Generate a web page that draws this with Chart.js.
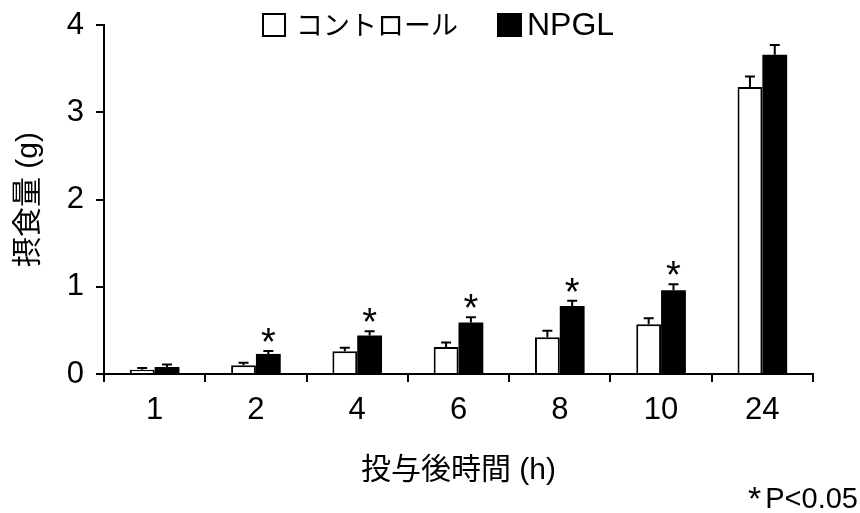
<!DOCTYPE html>
<html>
<head>
<meta charset="utf-8">
<script src="https://cdn.jsdelivr.net/npm/chart.js@4.4.0/dist/chart.umd.min.js"></script>
<style>
  html, body { margin: 0; padding: 0; background: #fff; }
  #wrap { width: 860px; height: 513px; position: relative; }
</style>
</head>
<body>
<div id="wrap"><canvas id="myChart" width="860" height="513" aria-label="bar chart" role="img"></canvas></div>
<script>
// data
const hours = ["1", "2", "4", "6", "8", "10", "24"];
const controlMean = [0.05, 0.10, 0.26, 0.31, 0.42, 0.57, 3.29];
const controlErr = [0.02, 0.03, 0.04, 0.05, 0.075, 0.07, 0.12];
const npglMean = [0.08, 0.23, 0.44, 0.59, 0.78, 0.96, 3.66];
const npglErr = [0.03, 0.035, 0.05, 0.06, 0.06, 0.07, 0.11];
const significant = [false, true, true, true, true, true, false];
const yTicks = [0, 1, 2, 3, 4];

const FONT = "'Liberation Sans', 'Noto Sans CJK JP', Arial, sans-serif";
const CJK = "'Noto Sans CJK JP', 'Liberation Sans', sans-serif";

// error bars, asterisks, legend and footnote
const extras = {
  id: "extras",
  afterDatasetsDraw(chart) {
    const ctx = chart.ctx;
    const yScale = chart.scales.y;
    const errs = [controlErr, npglErr];
    const means = [controlMean, npglMean];
    ctx.save();
    ctx.strokeStyle = "#000";
    ctx.lineWidth = 2;
    for (let d = 0; d < 2; d++) {
      const meta = chart.getDatasetMeta(d);
      meta.data.forEach((bar, i) => {
        const top = yScale.getPixelForValue(means[d][i] + errs[d][i]);
        ctx.beginPath();
        ctx.moveTo(bar.x, bar.y);
        ctx.lineTo(bar.x, top);
        ctx.moveTo(bar.x - 5, top);
        ctx.lineTo(bar.x + 5, top);
        ctx.stroke();
        if (d === 1 && significant[i]) {
          ctx.fillStyle = "#000";
          ctx.font = "38px " + FONT;
          ctx.textAlign = "center";
          ctx.textBaseline = "alphabetic";
          ctx.fillText("*", bar.x, top + 4);
        }
      });
    }
    ctx.restore();
  },
  afterDraw(chart) {
    const ctx = chart.ctx;
    ctx.save();
    // legend
    ctx.lineWidth = 2;
    ctx.strokeStyle = "#000";
    ctx.fillStyle = "#fff";
    ctx.fillRect(263, 14, 22, 22);
    ctx.strokeRect(263, 14, 22, 22);
    ctx.fillStyle = "#000";
    ctx.fillRect(497, 13, 25, 24);
    ctx.textBaseline = "middle";
    ctx.textAlign = "left";
    ctx.font = "27px " + CJK;
    ctx.fillText("コントロール", 296, 25);
    ctx.font = "32px " + FONT;
    ctx.fillText("NPGL", 527, 26);
    // footnote
    ctx.textBaseline = "alphabetic";
    ctx.font = "34px " + FONT;
    ctx.fillText("*", 748, 510);
    ctx.font = "29px " + FONT;
    ctx.textAlign = "right";
    ctx.fillText("P<0.05", 858, 508);
    ctx.restore();
  }
};

new Chart(document.getElementById("myChart"), {
  type: "bar",
  data: {
    labels: hours,
    datasets: [
      {
        label: "コントロール",
        data: controlMean,
        backgroundColor: "#ffffff",
        borderColor: "#000000",
        borderWidth: 2,
        categoryPercentage: 0.49,
        barPercentage: 1.0,
      },
      {
        label: "NPGL",
        data: npglMean,
        backgroundColor: "#000000",
        borderColor: "#000000",
        borderWidth: 0,
        categoryPercentage: 0.49,
        barPercentage: 1.0,
      },
    ],
  },
  options: {
    responsive: false,
    animation: false,
    devicePixelRatio: 1,
    layout: { padding: { top: 25, right: 47, left: 0, bottom: 0 } },
    plugins: {
      legend: { display: false },
      tooltip: { enabled: false },
    },
    scales: {
      x: {
        afterFit: (s) => { s.height = 139; s.paddingLeft = 0; s.paddingRight = 0; },
        grid: { display: true, drawOnChartArea: false, drawTicks: true, tickLength: 8, color: "#000", lineWidth: 2 },
        border: { display: true, color: "#000", width: 2 },
        ticks: { color: "#000", font: { family: FONT, size: 31 }, padding: 10, autoSkip: false, maxRotation: 0 },
        title: { display: true, text: "投与後時間 (h)", color: "#000", font: { family: FONT, size: 30 }, padding: { top: 0, bottom: 24 } },
      },
      y: {
        min: 0,
        max: 4,
        afterFit: (s) => { s.width = 104; s.paddingTop = 0; s.paddingBottom = 0; },
        afterBuildTicks: (s) => { s.ticks = yTicks.map((v) => ({ value: v })); },
        grid: { display: true, drawOnChartArea: false, drawTicks: true, tickLength: 8, color: "#000", lineWidth: 2 },
        border: { display: true, color: "#000", width: 2 },
        ticks: { color: "#000", font: { family: FONT, size: 31 }, padding: 12 },
        title: { display: true, text: "摂食量 (g)", color: "#000", font: { family: FONT, size: 30 }, padding: { top: 11, bottom: 0 } },
      },
    },
  },
  plugins: [extras],
});
</script>
</body>
</html>
